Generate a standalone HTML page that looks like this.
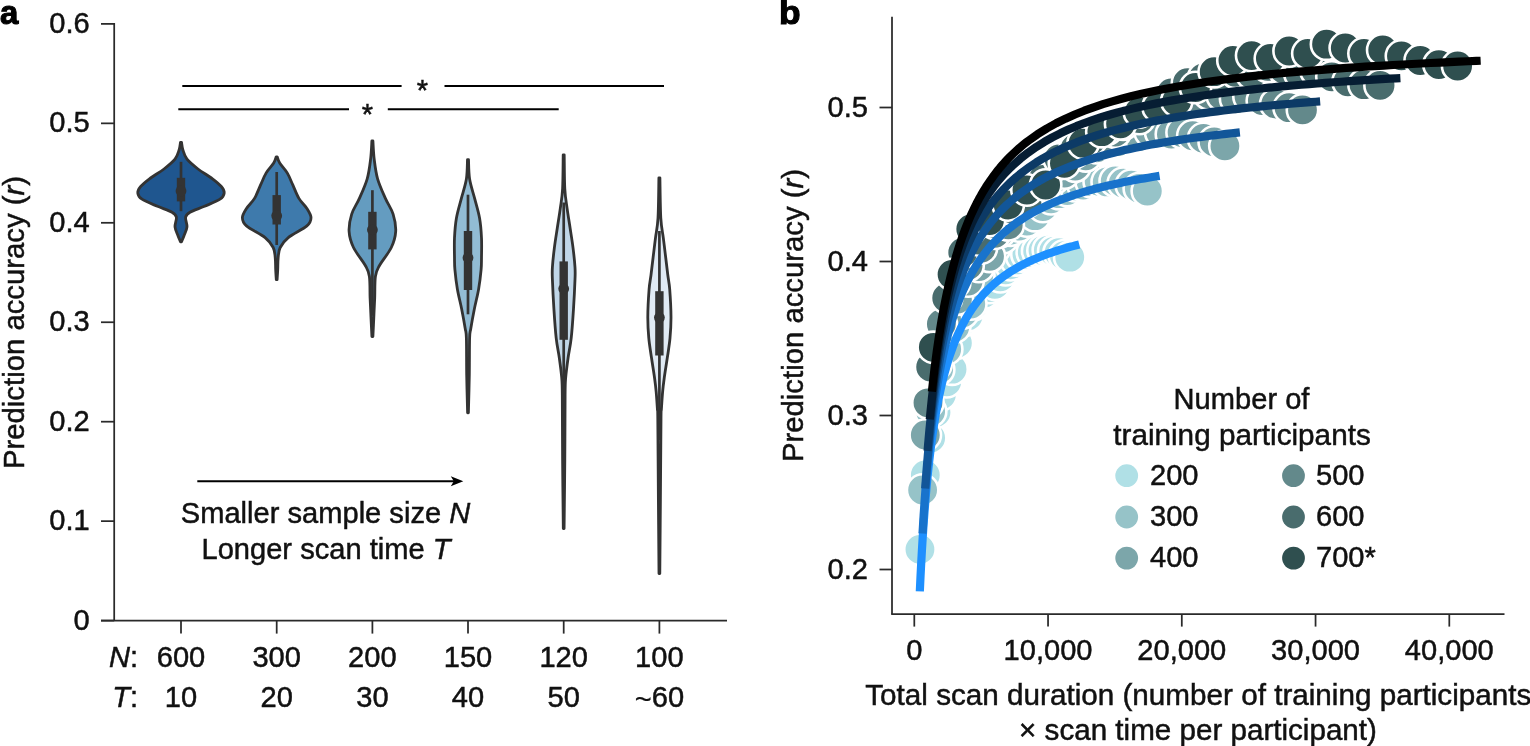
<!DOCTYPE html>
<html><head><meta charset="utf-8"><title>Figure</title>
<style>
html,body{margin:0;padding:0;background:#fff;}
svg{display:block;}
text{font-family:"Liberation Sans", sans-serif;font-size:30.0px;fill:#111;stroke:#111;stroke-width:0.5px;}
.b{font-weight:bold;font-size:34px;fill:#000;stroke:#000;stroke-width:1.1px;}
.i{font-style:italic;}
</style></head><body>
<svg width="1530" height="746" viewBox="0 0 1530 746">
<rect width="1530" height="746" fill="#fff"/>
<text class="b" transform="translate(0.00,24.30) scale(0.97,1)" text-anchor="start">a</text>
<path d="M114.2 23 V620.6" stroke="#2a2a2a" stroke-width="1.75" fill="none"/>
<path d="M101 620.6 H727" stroke="#2a2a2a" stroke-width="1.75" fill="none"/>
<line x1="101" y1="23.90" x2="114.2" y2="23.90" stroke="#2a2a2a" stroke-width="1.75"/>
<text transform="translate(89.80,32.90) scale(0.97,1)" text-anchor="end">0.6</text>
<line x1="101" y1="123.35" x2="114.2" y2="123.35" stroke="#2a2a2a" stroke-width="1.75"/>
<text transform="translate(89.80,132.35) scale(0.97,1)" text-anchor="end">0.5</text>
<line x1="101" y1="222.80" x2="114.2" y2="222.80" stroke="#2a2a2a" stroke-width="1.75"/>
<text transform="translate(89.80,231.80) scale(0.97,1)" text-anchor="end">0.4</text>
<line x1="101" y1="322.25" x2="114.2" y2="322.25" stroke="#2a2a2a" stroke-width="1.75"/>
<text transform="translate(89.80,331.25) scale(0.97,1)" text-anchor="end">0.3</text>
<line x1="101" y1="421.70" x2="114.2" y2="421.70" stroke="#2a2a2a" stroke-width="1.75"/>
<text transform="translate(89.80,430.70) scale(0.97,1)" text-anchor="end">0.2</text>
<line x1="101" y1="521.15" x2="114.2" y2="521.15" stroke="#2a2a2a" stroke-width="1.75"/>
<text transform="translate(89.80,530.15) scale(0.97,1)" text-anchor="end">0.1</text>
<line x1="101" y1="620.60" x2="114.2" y2="620.60" stroke="#2a2a2a" stroke-width="1.75"/>
<text transform="translate(89.80,629.60) scale(0.97,1)" text-anchor="end">0</text>
<line x1="181" y1="620.6" x2="181" y2="633.6" stroke="#2a2a2a" stroke-width="1.75"/>
<text transform="translate(181.00,666.60) scale(0.97,1)" text-anchor="middle">600</text>
<text transform="translate(181.00,706.80) scale(0.97,1)" text-anchor="middle">10</text>
<line x1="276.7" y1="620.6" x2="276.7" y2="633.6" stroke="#2a2a2a" stroke-width="1.75"/>
<text transform="translate(276.70,666.60) scale(0.97,1)" text-anchor="middle">300</text>
<text transform="translate(276.70,706.80) scale(0.97,1)" text-anchor="middle">20</text>
<line x1="372.4" y1="620.6" x2="372.4" y2="633.6" stroke="#2a2a2a" stroke-width="1.75"/>
<text transform="translate(372.40,666.60) scale(0.97,1)" text-anchor="middle">200</text>
<text transform="translate(372.40,706.80) scale(0.97,1)" text-anchor="middle">30</text>
<line x1="468" y1="620.6" x2="468" y2="633.6" stroke="#2a2a2a" stroke-width="1.75"/>
<text transform="translate(468.00,666.60) scale(0.97,1)" text-anchor="middle">150</text>
<text transform="translate(468.00,706.80) scale(0.97,1)" text-anchor="middle">40</text>
<line x1="563.7" y1="620.6" x2="563.7" y2="633.6" stroke="#2a2a2a" stroke-width="1.75"/>
<text transform="translate(563.70,666.60) scale(0.97,1)" text-anchor="middle">120</text>
<text transform="translate(563.70,706.80) scale(0.97,1)" text-anchor="middle">50</text>
<line x1="659.4" y1="620.6" x2="659.4" y2="633.6" stroke="#2a2a2a" stroke-width="1.75"/>
<text transform="translate(659.40,666.60) scale(0.97,1)" text-anchor="middle">100</text>
<text transform="translate(659.40,706.80) scale(0.97,1)" text-anchor="middle"><tspan dy="2.6" style="stroke-width:0.2px">~</tspan><tspan dy="-2.6">60</tspan></text>
<text transform="translate(138.20,666.60) scale(0.97,1)" text-anchor="end"><tspan class="i">N</tspan>:</text>
<text transform="translate(138.20,706.80) scale(0.97,1)" text-anchor="end"><tspan class="i">T</tspan>:</text>
<text transform="translate(23.50,322.50) rotate(-90) scale(0.977,1)" text-anchor="middle">Prediction accuracy (<tspan class="i">r</tspan>)</text>
<path d="M182.3 85.9 H401.6 M444.5 85.9 H664" stroke="#000" stroke-width="2"/>
<path d="M178.3 109.3 H349 M387.8 109.3 H558.7" stroke="#000" stroke-width="2"/>
<text transform="translate(422.50,99.60) scale(0.97,1)" text-anchor="middle">*</text>
<text transform="translate(367.50,123.70) scale(0.97,1)" text-anchor="middle">*</text>
<path d="M197.3 481.2 H456" stroke="#000" stroke-width="2"/>
<path d="M463.3 481.2 L450.8 476.2 L453.8 481.2 L450.8 486.2 Z" fill="#000"/>
<text transform="translate(325.50,523.30) scale(0.97,1)" text-anchor="middle">Smaller sample size <tspan class="i">N</tspan></text>
<text transform="translate(326.00,559.00) scale(0.97,1)" text-anchor="middle">Longer scan time <tspan class="i">T</tspan></text>
<path d="M181.50 142.30 C181.73 143.58 181.98 147.18 182.90 150.00 C183.82 152.82 184.48 156.03 187.00 159.20 C189.52 162.37 193.75 165.73 198.00 169.00 C202.25 172.27 208.58 175.85 212.50 178.80 C216.42 181.75 219.55 184.33 221.50 186.70 C223.45 189.07 224.45 190.92 224.20 193.00 C223.95 195.08 223.28 196.98 220.00 199.20 C216.72 201.42 209.50 204.13 204.50 206.30 C199.50 208.47 193.15 210.40 190.00 212.20 C186.85 214.00 186.10 214.65 185.60 217.10 C185.10 219.55 187.27 223.80 187.00 226.90 C186.73 230.00 184.92 233.22 184.00 235.70 C183.08 238.18 181.92 240.78 181.50 241.80 L180.50 241.80 C180.08 240.78 178.92 238.18 178.00 235.70 C177.08 233.22 175.27 230.00 175.00 226.90 C174.73 223.80 176.90 219.55 176.40 217.10 C175.90 214.65 175.15 214.00 172.00 212.20 C168.85 210.40 162.50 208.47 157.50 206.30 C152.50 204.13 145.28 201.42 142.00 199.20 C138.72 196.98 138.05 195.08 137.80 193.00 C137.55 190.92 138.55 189.07 140.50 186.70 C142.45 184.33 145.58 181.75 149.50 178.80 C153.42 175.85 159.75 172.27 164.00 169.00 C168.25 165.73 172.48 162.37 175.00 159.20 C177.52 156.03 178.18 152.82 179.10 150.00 C180.02 147.18 180.27 143.58 180.50 142.30 Z" fill="#1f568f" stroke="#333" stroke-width="2.8" stroke-linejoin="round"/>
<line x1="181" y1="161.8" x2="181" y2="211.2" stroke="#333" stroke-width="2.7"/>
<line x1="181" y1="177.8" x2="181" y2="201.4" stroke="#333" stroke-width="8.4"/>
<circle cx="181" cy="191" r="5.4" fill="#333"/>
<path d="M277.20 156.80 C277.62 157.85 278.03 160.42 279.70 163.10 C281.37 165.78 285.03 169.30 287.20 172.90 C289.37 176.50 290.75 180.45 292.70 184.70 C294.65 188.95 296.57 194.48 298.90 198.40 C301.23 202.32 304.68 205.00 306.70 208.20 C308.72 211.40 310.97 214.65 311.00 217.60 C311.03 220.55 310.68 222.57 306.90 225.90 C303.12 229.23 292.75 234.00 288.30 237.60 C283.85 241.20 281.88 244.22 280.20 247.50 C278.52 250.78 278.62 253.55 278.20 257.30 C277.78 261.05 277.88 266.28 277.70 270.00 C277.52 273.72 277.20 278.00 277.10 279.60 L276.30 279.60 C276.20 278.00 275.88 273.72 275.70 270.00 C275.52 266.28 275.62 261.05 275.20 257.30 C274.78 253.55 274.88 250.78 273.20 247.50 C271.52 244.22 269.55 241.20 265.10 237.60 C260.65 234.00 250.28 229.23 246.50 225.90 C242.72 222.57 242.37 220.55 242.40 217.60 C242.43 214.65 244.68 211.40 246.70 208.20 C248.72 205.00 252.17 202.32 254.50 198.40 C256.83 194.48 258.75 188.95 260.70 184.70 C262.65 180.45 264.03 176.50 266.20 172.90 C268.37 169.30 272.03 165.78 273.70 163.10 C275.37 160.42 275.78 157.85 276.20 156.80 Z" fill="#3e7aac" stroke="#333" stroke-width="2.8" stroke-linejoin="round"/>
<line x1="276.7" y1="172" x2="276.7" y2="245" stroke="#333" stroke-width="2.7"/>
<line x1="276.7" y1="195.1" x2="276.7" y2="224.5" stroke="#333" stroke-width="8.4"/>
<circle cx="276.7" cy="215.7" r="5.4" fill="#333"/>
<path d="M372.90 140.90 C373.12 143.95 373.42 152.88 374.20 159.20 C374.98 165.52 375.73 172.27 377.60 178.80 C379.47 185.33 382.82 192.52 385.40 198.40 C387.98 204.28 391.38 208.60 393.10 214.10 C394.82 219.60 396.00 225.83 395.70 231.40 C395.40 236.97 394.05 241.73 391.30 247.50 C388.55 253.27 381.85 261.17 379.20 266.00 C376.55 270.83 376.15 271.17 375.40 276.50 C374.65 281.83 374.97 291.15 374.70 298.00 C374.43 304.85 374.10 311.18 373.80 317.60 C373.50 324.02 373.05 333.35 372.90 336.50 L371.90 336.50 C371.75 333.35 371.30 324.02 371.00 317.60 C370.70 311.18 370.37 304.85 370.10 298.00 C369.83 291.15 370.15 281.83 369.40 276.50 C368.65 271.17 368.25 270.83 365.60 266.00 C362.95 261.17 356.25 253.27 353.50 247.50 C350.75 241.73 349.40 236.97 349.10 231.40 C348.80 225.83 349.98 219.60 351.70 214.10 C353.42 208.60 356.82 204.28 359.40 198.40 C361.98 192.52 365.33 185.33 367.20 178.80 C369.07 172.27 369.82 165.52 370.60 159.20 C371.38 152.88 371.68 143.95 371.90 140.90 Z" fill="#649cc0" stroke="#333" stroke-width="2.8" stroke-linejoin="round"/>
<line x1="372.4" y1="190.2" x2="372.4" y2="315.7" stroke="#333" stroke-width="2.7"/>
<line x1="372.4" y1="211.8" x2="372.4" y2="249.4" stroke="#333" stroke-width="8.4"/>
<circle cx="372.4" cy="229.8" r="5.4" fill="#333"/>
<path d="M468.50 159.70 C468.68 162.92 468.57 172.52 469.60 179.00 C470.63 185.48 473.03 192.07 474.70 198.60 C476.37 205.13 478.47 211.67 479.60 218.20 C480.73 224.73 481.18 231.25 481.50 237.80 C481.82 244.35 481.57 252.20 481.50 257.50 C481.43 262.80 481.58 264.32 481.10 269.60 C480.62 274.88 479.72 282.67 478.60 289.20 C477.48 295.73 475.70 302.27 474.40 308.80 C473.10 315.33 471.60 323.50 470.80 328.40 C470.00 333.30 469.85 330.43 469.60 338.20 C469.35 345.97 469.50 362.57 469.30 375.00 C469.10 387.43 468.55 406.50 468.40 412.80 L467.60 412.80 C467.45 406.50 466.90 387.43 466.70 375.00 C466.50 362.57 466.65 345.97 466.40 338.20 C466.15 330.43 466.00 333.30 465.20 328.40 C464.40 323.50 462.90 315.33 461.60 308.80 C460.30 302.27 458.52 295.73 457.40 289.20 C456.28 282.67 455.38 274.88 454.90 269.60 C454.42 264.32 454.57 262.80 454.50 257.50 C454.43 252.20 454.18 244.35 454.50 237.80 C454.82 231.25 455.27 224.73 456.40 218.20 C457.53 211.67 459.63 205.13 461.30 198.60 C462.97 192.07 465.37 185.48 466.40 179.00 C467.43 172.52 467.32 162.92 467.50 159.70 Z" fill="#92bcd4" stroke="#333" stroke-width="2.8" stroke-linejoin="round"/>
<line x1="468" y1="194.7" x2="468" y2="314.3" stroke="#333" stroke-width="2.7"/>
<line x1="468" y1="231" x2="468" y2="290" stroke="#333" stroke-width="8.4"/>
<circle cx="468" cy="257.8" r="5.4" fill="#333"/>
<path d="M564.20 154.80 C564.30 160.47 564.32 179.87 564.80 188.80 C565.28 197.73 566.22 201.87 567.10 208.40 C567.98 214.93 569.12 221.47 570.10 228.00 C571.08 234.53 572.18 241.05 573.00 247.60 C573.82 254.15 574.67 262.00 575.00 267.30 C575.33 272.60 575.25 272.48 575.00 279.40 C574.75 286.32 574.13 299.00 573.50 308.80 C572.87 318.60 572.10 330.03 571.20 338.20 C570.30 346.37 569.02 351.25 568.10 357.80 C567.18 364.35 566.20 371.30 565.70 377.50 C565.20 383.70 565.25 381.25 565.10 395.00 C564.95 408.75 564.97 437.75 564.80 460.00 C564.63 482.25 564.22 517.08 564.10 528.50 L563.30 528.50 C563.18 517.08 562.77 482.25 562.60 460.00 C562.43 437.75 562.45 408.75 562.30 395.00 C562.15 381.25 562.20 383.70 561.70 377.50 C561.20 371.30 560.22 364.35 559.30 357.80 C558.38 351.25 557.10 346.37 556.20 338.20 C555.30 330.03 554.53 318.60 553.90 308.80 C553.27 299.00 552.65 286.32 552.40 279.40 C552.15 272.48 552.07 272.60 552.40 267.30 C552.73 262.00 553.58 254.15 554.40 247.60 C555.22 241.05 556.32 234.53 557.30 228.00 C558.28 221.47 559.42 214.93 560.30 208.40 C561.18 201.87 562.12 197.73 562.60 188.80 C563.08 179.87 563.10 160.47 563.20 154.80 Z" fill="#c0d6e8" stroke="#333" stroke-width="2.8" stroke-linejoin="round"/>
<line x1="563.7" y1="202.5" x2="563.7" y2="420" stroke="#333" stroke-width="2.7"/>
<line x1="563.7" y1="261.4" x2="563.7" y2="339.8" stroke="#333" stroke-width="8.4"/>
<circle cx="563.7" cy="288.8" r="5.4" fill="#333"/>
<path d="M659.90 177.90 C660.05 184.62 660.23 208.22 660.80 218.20 C661.37 228.18 662.48 231.25 663.30 237.80 C664.12 244.35 664.95 251.30 665.70 257.50 C666.45 263.70 667.13 269.72 667.80 275.00 C668.47 280.28 669.17 282.25 669.70 289.20 C670.23 296.15 670.95 308.53 671.00 316.70 C671.05 324.87 670.62 331.35 670.00 338.20 C669.38 345.05 668.25 351.25 667.30 357.80 C666.35 364.35 665.08 371.80 664.30 377.50 C663.52 383.20 663.08 386.72 662.60 392.00 C662.12 397.28 661.67 404.70 661.40 409.20 C661.13 413.70 661.17 403.87 661.00 419.00 C660.83 434.13 660.60 474.23 660.40 500.00 C660.20 525.77 659.90 561.33 659.80 573.60 L659.00 573.60 C658.90 561.33 658.60 525.77 658.40 500.00 C658.20 474.23 657.97 434.13 657.80 419.00 C657.63 403.87 657.67 413.70 657.40 409.20 C657.13 404.70 656.68 397.28 656.20 392.00 C655.72 386.72 655.28 383.20 654.50 377.50 C653.72 371.80 652.45 364.35 651.50 357.80 C650.55 351.25 649.42 345.05 648.80 338.20 C648.18 331.35 647.75 324.87 647.80 316.70 C647.85 308.53 648.57 296.15 649.10 289.20 C649.63 282.25 650.33 280.28 651.00 275.00 C651.67 269.72 652.35 263.70 653.10 257.50 C653.85 251.30 654.68 244.35 655.50 237.80 C656.32 231.25 657.43 228.18 658.00 218.20 C658.57 208.22 658.75 184.62 658.90 177.90 Z" fill="#e0eaf4" stroke="#333" stroke-width="2.8" stroke-linejoin="round"/>
<line x1="659.4" y1="231" x2="659.4" y2="440" stroke="#333" stroke-width="2.7"/>
<line x1="659.4" y1="291.2" x2="659.4" y2="355.5" stroke="#333" stroke-width="8.4"/>
<circle cx="659.4" cy="317.6" r="5.4" fill="#333"/>
<text class="b" transform="translate(779.00,24.30) scale(1.04,1)" text-anchor="start">b</text>
<g fill="#b0e0e6" stroke="#fff" stroke-width="2.6">
<circle cx="919.95" cy="549.40" r="15.7"/><circle cx="925.30" cy="475.00" r="15.7"/><circle cx="930.65" cy="438.00" r="15.7"/><circle cx="936.00" cy="412.28" r="15.7"/><circle cx="941.35" cy="394.76" r="15.7"/><circle cx="946.70" cy="381.82" r="15.7"/><circle cx="952.05" cy="369.22" r="15.7"/><circle cx="957.40" cy="343.00" r="15.7"/><circle cx="962.75" cy="320.87" r="15.7"/><circle cx="968.10" cy="315.86" r="15.7"/><circle cx="973.45" cy="304.66" r="15.7"/><circle cx="978.80" cy="297.61" r="15.7"/><circle cx="984.15" cy="292.98" r="15.7"/><circle cx="989.50" cy="287.53" r="15.7"/><circle cx="994.85" cy="284.23" r="15.7"/><circle cx="1000.20" cy="276.80" r="15.7"/><circle cx="1005.55" cy="269.81" r="15.7"/><circle cx="1010.90" cy="264.73" r="15.7"/><circle cx="1016.25" cy="259.97" r="15.7"/><circle cx="1021.60" cy="255.94" r="15.7"/><circle cx="1026.95" cy="254.32" r="15.7"/><circle cx="1032.30" cy="252.45" r="15.7"/><circle cx="1037.65" cy="251.07" r="15.7"/><circle cx="1043.00" cy="250.48" r="15.7"/><circle cx="1048.35" cy="250.05" r="15.7"/><circle cx="1053.70" cy="251.28" r="15.7"/><circle cx="1059.05" cy="252.64" r="15.7"/><circle cx="1064.40" cy="255.65" r="15.7"/><circle cx="1069.75" cy="257.20" r="15.7"/>
</g>
<g fill="#96c3c8" stroke="#fff" stroke-width="2.6">
<circle cx="922.62" cy="490.00" r="15.7"/><circle cx="930.65" cy="411.58" r="15.7"/><circle cx="938.68" cy="369.42" r="15.7"/><circle cx="946.70" cy="349.30" r="15.7"/><circle cx="954.73" cy="327.06" r="15.7"/><circle cx="962.75" cy="312.91" r="15.7"/><circle cx="970.77" cy="304.00" r="15.7"/><circle cx="978.80" cy="275.62" r="15.7"/><circle cx="986.83" cy="253.65" r="15.7"/><circle cx="994.85" cy="247.77" r="15.7"/><circle cx="1002.88" cy="237.71" r="15.7"/><circle cx="1010.90" cy="230.23" r="15.7"/><circle cx="1018.93" cy="226.07" r="15.7"/><circle cx="1026.95" cy="221.07" r="15.7"/><circle cx="1034.97" cy="215.71" r="15.7"/><circle cx="1043.00" cy="206.60" r="15.7"/><circle cx="1051.03" cy="198.76" r="15.7"/><circle cx="1059.05" cy="193.72" r="15.7"/><circle cx="1067.08" cy="190.50" r="15.7"/><circle cx="1075.10" cy="185.79" r="15.7"/><circle cx="1083.12" cy="184.99" r="15.7"/><circle cx="1091.15" cy="181.67" r="15.7"/><circle cx="1099.17" cy="181.35" r="15.7"/><circle cx="1107.20" cy="181.97" r="15.7"/><circle cx="1115.22" cy="180.94" r="15.7"/><circle cx="1123.25" cy="183.15" r="15.7"/><circle cx="1131.28" cy="185.18" r="15.7"/><circle cx="1139.30" cy="188.42" r="15.7"/><circle cx="1147.33" cy="191.00" r="15.7"/>
</g>
<g fill="#7ca6aa" stroke="#fff" stroke-width="2.6">
<circle cx="925.30" cy="435.00" r="15.7"/><circle cx="936.00" cy="364.59" r="15.7"/><circle cx="946.70" cy="320.09" r="15.7"/><circle cx="957.40" cy="299.16" r="15.7"/><circle cx="968.10" cy="281.10" r="15.7"/><circle cx="978.80" cy="266.51" r="15.7"/><circle cx="989.50" cy="256.42" r="15.7"/><circle cx="1000.20" cy="231.68" r="15.7"/><circle cx="1010.90" cy="210.15" r="15.7"/><circle cx="1021.60" cy="202.42" r="15.7"/><circle cx="1032.30" cy="192.47" r="15.7"/><circle cx="1043.00" cy="183.49" r="15.7"/><circle cx="1053.70" cy="178.70" r="15.7"/><circle cx="1064.40" cy="173.04" r="15.7"/><circle cx="1075.10" cy="166.18" r="15.7"/><circle cx="1085.80" cy="155.94" r="15.7"/><circle cx="1096.50" cy="147.80" r="15.7"/><circle cx="1107.20" cy="143.33" r="15.7"/><circle cx="1117.90" cy="141.67" r="15.7"/><circle cx="1128.60" cy="136.30" r="15.7"/><circle cx="1139.30" cy="136.34" r="15.7"/><circle cx="1150.00" cy="131.58" r="15.7"/><circle cx="1160.70" cy="132.32" r="15.7"/><circle cx="1171.40" cy="134.17" r="15.7"/><circle cx="1182.10" cy="132.55" r="15.7"/><circle cx="1192.80" cy="135.73" r="15.7"/><circle cx="1203.50" cy="138.43" r="15.7"/><circle cx="1214.20" cy="141.92" r="15.7"/><circle cx="1224.90" cy="145.90" r="15.7"/>
</g>
<g fill="#63898b" stroke="#fff" stroke-width="2.6">
<circle cx="927.98" cy="402.80" r="15.7"/><circle cx="941.35" cy="324.00" r="15.7"/><circle cx="954.73" cy="282.51" r="15.7"/><circle cx="968.10" cy="265.43" r="15.7"/><circle cx="981.48" cy="248.09" r="15.7"/><circle cx="994.85" cy="233.31" r="15.7"/><circle cx="1008.23" cy="224.92" r="15.7"/><circle cx="1021.60" cy="201.21" r="15.7"/><circle cx="1034.97" cy="180.19" r="15.7"/><circle cx="1048.35" cy="171.23" r="15.7"/><circle cx="1061.72" cy="162.00" r="15.7"/><circle cx="1075.10" cy="152.12" r="15.7"/><circle cx="1088.47" cy="147.30" r="15.7"/><circle cx="1101.85" cy="141.56" r="15.7"/><circle cx="1115.22" cy="132.19" r="15.7"/><circle cx="1128.60" cy="119.80" r="15.7"/><circle cx="1141.97" cy="110.33" r="15.7"/><circle cx="1155.35" cy="105.42" r="15.7"/><circle cx="1168.72" cy="105.31" r="15.7"/><circle cx="1182.10" cy="99.26" r="15.7"/><circle cx="1195.47" cy="100.10" r="15.7"/><circle cx="1208.85" cy="93.89" r="15.7"/><circle cx="1222.22" cy="95.67" r="15.7"/><circle cx="1235.60" cy="98.73" r="15.7"/><circle cx="1248.97" cy="96.50" r="15.7"/><circle cx="1262.35" cy="100.65" r="15.7"/><circle cx="1275.72" cy="104.00" r="15.7"/><circle cx="1289.10" cy="107.70" r="15.7"/><circle cx="1302.47" cy="109.90" r="15.7"/>
</g>
<g fill="#496c6d" stroke="#fff" stroke-width="2.6">
<circle cx="930.65" cy="367.00" r="15.7"/><circle cx="946.70" cy="298.00" r="15.7"/><circle cx="962.75" cy="252.50" r="15.7"/><circle cx="978.80" cy="240.02" r="15.7"/><circle cx="994.85" cy="223.58" r="15.7"/><circle cx="1010.90" cy="208.69" r="15.7"/><circle cx="1026.95" cy="202.01" r="15.7"/><circle cx="1043.00" cy="179.33" r="15.7"/><circle cx="1059.05" cy="158.79" r="15.7"/><circle cx="1075.10" cy="148.59" r="15.7"/><circle cx="1091.15" cy="140.04" r="15.7"/><circle cx="1107.20" cy="129.22" r="15.7"/><circle cx="1123.25" cy="124.33" r="15.7"/><circle cx="1139.30" cy="118.49" r="15.7"/><circle cx="1155.35" cy="107.07" r="15.7"/><circle cx="1171.40" cy="92.99" r="15.7"/><circle cx="1187.45" cy="82.67" r="15.7"/><circle cx="1203.50" cy="77.78" r="15.7"/><circle cx="1219.55" cy="79.19" r="15.7"/><circle cx="1235.60" cy="72.43" r="15.7"/><circle cx="1251.65" cy="74.06" r="15.7"/><circle cx="1267.70" cy="66.36" r="15.7"/><circle cx="1283.75" cy="69.17" r="15.7"/><circle cx="1299.80" cy="73.40" r="15.7"/><circle cx="1315.85" cy="70.55" r="15.7"/><circle cx="1331.90" cy="76.80" r="15.7"/><circle cx="1347.95" cy="81.80" r="15.7"/><circle cx="1364.00" cy="84.70" r="15.7"/><circle cx="1380.05" cy="85.40" r="15.7"/>
</g>
<g fill="#2f4f4f" stroke="#fff" stroke-width="2.6">
<circle cx="933.33" cy="347.30" r="15.7"/><circle cx="952.05" cy="274.50" r="15.7"/><circle cx="970.77" cy="229.00" r="15.7"/><circle cx="989.50" cy="220.50" r="15.7"/><circle cx="1008.23" cy="205.00" r="15.7"/><circle cx="1026.95" cy="190.00" r="15.7"/><circle cx="1045.67" cy="185.00" r="15.7"/><circle cx="1064.40" cy="163.30" r="15.7"/><circle cx="1083.12" cy="143.20" r="15.7"/><circle cx="1101.85" cy="131.70" r="15.7"/><circle cx="1120.58" cy="123.80" r="15.7"/><circle cx="1139.30" cy="112.00" r="15.7"/><circle cx="1158.03" cy="107.00" r="15.7"/><circle cx="1176.75" cy="101.00" r="15.7"/><circle cx="1195.47" cy="87.50" r="15.7"/><circle cx="1214.20" cy="71.70" r="15.7"/><circle cx="1232.92" cy="60.50" r="15.7"/><circle cx="1251.65" cy="55.60" r="15.7"/><circle cx="1270.38" cy="58.50" r="15.7"/><circle cx="1289.10" cy="51.00" r="15.7"/><circle cx="1307.83" cy="53.40" r="15.7"/><circle cx="1326.55" cy="44.20" r="15.7"/><circle cx="1345.28" cy="48.00" r="15.7"/><circle cx="1364.00" cy="53.40" r="15.7"/><circle cx="1382.72" cy="49.90" r="15.7"/><circle cx="1401.45" cy="55.90" r="15.7"/><circle cx="1420.17" cy="60.50" r="15.7"/><circle cx="1438.90" cy="64.60" r="15.7"/><circle cx="1457.62" cy="66.00" r="15.7"/>
</g>
<path d="M919.82 591.40 L919.90 589.60 L920.57 575.43 L921.24 562.47 L921.91 550.55 L922.58 539.52 L923.24 529.26 L923.91 519.70 L924.58 510.74 L925.25 502.33 L925.92 494.41 L926.59 486.93 L927.26 479.86 L927.93 473.16 L928.59 466.80 L929.26 460.75 L929.93 454.98 L930.60 449.49 L931.27 444.23 L931.94 439.21 L932.61 434.40 L933.28 429.79 L933.94 425.37 L934.61 421.12 L935.28 417.04 L935.95 413.11 L936.62 409.32 L937.29 405.68 L937.96 402.16 L938.63 398.76 L939.29 395.48 L939.96 392.31 L940.63 389.25 L941.30 386.28 L941.97 383.41 L942.64 380.63 L943.31 377.93 L943.98 375.31 L944.64 372.78 L945.31 370.31 L945.98 367.92 L946.65 365.59 L947.32 363.33 L949.99 354.88 L952.67 347.28 L955.34 340.39 L958.02 334.13 L960.69 328.41 L963.37 323.16 L966.04 318.33 L968.72 313.86 L971.39 309.72 L974.07 305.88 L976.74 302.29 L979.42 298.94 L982.09 295.81 L984.77 292.86 L987.44 290.09 L990.12 287.49 L992.79 285.03 L995.47 282.70 L998.14 280.50 L1000.82 278.41 L1003.49 276.43 L1006.17 274.55 L1008.84 272.75 L1011.52 271.04 L1014.19 269.41 L1016.87 267.85 L1019.54 266.37 L1022.22 264.94 L1024.89 263.57 L1027.57 262.26 L1030.24 261.01 L1032.92 259.80 L1035.59 258.64 L1038.27 257.52 L1040.94 256.45 L1043.62 255.41 L1046.29 254.41 L1048.97 253.45 L1051.64 252.52 L1054.32 251.62 L1056.99 250.75 L1059.67 249.91 L1062.34 249.10 L1065.02 248.31 L1067.69 247.55 L1070.37 246.81 L1073.04 246.10 L1075.10 245.56 L1079.26 244.48" fill="none" stroke="#1e90ff" stroke-width="8.2" stroke-linecap="butt" stroke-linejoin="round"/>
<path d="M922.50 533.49 L922.62 531.69 L923.62 515.61 L924.62 501.00 L925.63 487.62 L926.63 475.31 L927.63 463.93 L928.64 453.37 L929.64 443.53 L930.64 434.33 L931.64 425.70 L932.65 417.60 L933.65 409.97 L934.65 402.76 L935.66 395.95 L936.66 389.49 L937.66 383.36 L938.67 377.54 L939.67 371.99 L940.67 366.70 L941.68 361.66 L942.68 356.84 L943.68 352.22 L944.69 347.80 L945.69 343.57 L946.69 339.50 L947.69 335.60 L948.70 331.84 L949.70 328.23 L950.70 324.75 L951.71 321.40 L952.71 318.17 L953.71 315.05 L954.72 312.03 L955.72 309.12 L956.72 306.31 L957.73 303.59 L958.73 300.95 L959.73 298.40 L960.74 295.92 L961.74 293.52 L962.74 291.20 L963.74 288.94 L967.76 280.53 L971.77 273.01 L975.78 266.24 L979.79 260.11 L983.81 254.54 L987.82 249.44 L991.83 244.77 L995.84 240.47 L999.86 236.50 L1003.87 232.81 L1007.88 229.39 L1011.89 226.21 L1015.91 223.23 L1019.92 220.44 L1023.93 217.83 L1027.94 215.37 L1031.96 213.06 L1035.97 210.87 L1039.98 208.81 L1043.99 206.86 L1048.01 205.01 L1052.02 203.25 L1056.03 201.58 L1060.04 199.99 L1064.06 198.47 L1068.07 197.03 L1072.08 195.65 L1076.09 194.33 L1080.11 193.07 L1084.12 191.86 L1088.13 190.70 L1092.14 189.59 L1096.16 188.52 L1100.17 187.49 L1104.18 186.51 L1108.19 185.56 L1112.21 184.64 L1116.22 183.76 L1120.23 182.91 L1124.24 182.09 L1128.26 181.29 L1132.27 180.52 L1136.28 179.78 L1140.29 179.07 L1144.31 178.37 L1148.32 177.70 L1152.33 177.05 L1155.35 176.57 L1159.60 175.90" fill="none" stroke="#1873cc" stroke-width="8.2" stroke-linecap="butt" stroke-linejoin="round"/>
<path d="M925.16 488.52 L925.30 486.73 L926.63 469.38 L927.97 453.70 L929.31 439.44 L930.65 426.38 L931.98 414.36 L933.32 403.26 L934.66 392.97 L936.00 383.38 L937.33 374.44 L938.67 366.06 L940.01 358.20 L941.35 350.81 L942.68 343.84 L944.02 337.26 L945.36 331.03 L946.70 325.13 L948.03 319.53 L949.37 314.20 L950.71 309.13 L952.05 304.30 L953.38 299.69 L954.72 295.28 L956.06 291.07 L957.40 287.03 L958.73 283.16 L960.07 279.45 L961.41 275.89 L962.75 272.46 L964.08 269.17 L965.42 265.99 L966.76 262.94 L968.10 259.99 L969.43 257.15 L970.77 254.41 L972.11 251.76 L973.45 249.20 L974.78 246.72 L976.12 244.33 L977.46 242.01 L978.80 239.76 L980.13 237.58 L985.48 229.49 L990.83 222.29 L996.18 215.84 L1001.53 210.02 L1006.88 204.74 L1012.23 199.94 L1017.58 195.54 L1022.93 191.51 L1028.28 187.79 L1033.63 184.35 L1038.98 181.17 L1044.33 178.20 L1049.68 175.44 L1055.03 172.86 L1060.38 170.45 L1065.73 168.18 L1071.08 166.04 L1076.43 164.04 L1081.78 162.14 L1087.13 160.35 L1092.48 158.65 L1097.83 157.04 L1103.18 155.51 L1108.53 154.06 L1113.88 152.68 L1119.23 151.36 L1124.58 150.10 L1129.93 148.90 L1135.28 147.75 L1140.63 146.66 L1145.98 145.60 L1151.33 144.59 L1156.68 143.63 L1162.03 142.70 L1167.38 141.80 L1172.73 140.94 L1178.08 140.11 L1183.43 139.31 L1188.78 138.55 L1194.13 137.80 L1199.48 137.09 L1204.83 136.40 L1210.18 135.73 L1215.53 135.08 L1220.88 134.45 L1226.23 133.85 L1231.58 133.26 L1235.60 132.83 L1239.88 132.38" fill="none" stroke="#125699" stroke-width="8.2" stroke-linecap="butt" stroke-linejoin="round"/>
<path d="M927.55 450.79 L927.71 449.00 L929.38 430.47 L931.05 413.86 L932.72 398.84 L934.40 385.18 L936.07 372.68 L937.74 361.20 L939.41 350.61 L941.08 340.80 L942.75 331.69 L944.43 323.19 L946.10 315.25 L947.77 307.81 L949.44 300.82 L951.11 294.25 L952.79 288.05 L954.46 282.19 L956.13 276.65 L957.80 271.39 L959.47 266.40 L961.15 261.66 L962.82 257.15 L964.49 252.85 L966.16 248.74 L967.83 244.82 L969.50 241.07 L971.18 237.48 L972.85 234.04 L974.52 230.74 L976.19 227.57 L977.86 224.52 L979.54 221.59 L981.21 218.78 L982.88 216.06 L984.55 213.45 L986.22 210.92 L987.90 208.49 L989.57 206.14 L991.24 203.87 L992.91 201.67 L994.58 199.55 L996.25 197.49 L1002.94 189.88 L1009.63 183.13 L1016.32 177.11 L1023.00 171.70 L1029.69 166.81 L1036.38 162.37 L1043.07 158.32 L1049.75 154.61 L1056.44 151.20 L1063.13 148.06 L1069.82 145.15 L1076.50 142.45 L1083.19 139.94 L1089.88 137.60 L1096.57 135.41 L1103.25 133.36 L1109.94 131.43 L1116.63 129.62 L1123.32 127.91 L1130.00 126.29 L1136.69 124.76 L1143.38 123.32 L1150.07 121.95 L1156.75 120.64 L1163.44 119.41 L1170.13 118.23 L1176.82 117.10 L1183.50 116.03 L1190.19 115.00 L1196.88 114.02 L1203.57 113.08 L1210.25 112.18 L1216.94 111.32 L1223.63 110.49 L1230.32 109.70 L1237.00 108.93 L1243.69 108.20 L1250.38 107.49 L1257.07 106.81 L1263.75 106.15 L1270.44 105.51 L1277.13 104.90 L1283.82 104.31 L1290.50 103.73 L1297.19 103.18 L1303.88 102.64 L1310.57 102.12 L1315.85 101.73 L1320.14 101.40" fill="none" stroke="#0c3a66" stroke-width="8.2" stroke-linecap="butt" stroke-linejoin="round"/>
<path d="M929.74 419.37 L929.93 417.58 L931.93 398.03 L933.94 380.63 L935.95 365.02 L937.95 350.90 L939.96 338.07 L941.96 326.35 L943.97 315.58 L945.98 305.66 L947.98 296.48 L949.99 287.95 L952.00 280.02 L954.00 272.62 L956.01 265.69 L958.01 259.18 L960.02 253.07 L962.03 247.32 L964.03 241.89 L966.04 236.75 L968.05 231.89 L970.05 227.28 L972.06 222.90 L974.06 218.73 L976.07 214.77 L978.08 210.99 L980.08 207.38 L982.09 203.93 L984.10 200.63 L986.10 197.48 L988.11 194.45 L990.11 191.54 L992.12 188.76 L994.13 186.08 L996.13 183.50 L998.14 181.02 L1000.15 178.63 L1002.15 176.33 L1004.16 174.11 L1006.16 171.97 L1008.17 169.90 L1010.18 167.90 L1012.18 165.97 L1020.21 158.83 L1028.23 152.53 L1036.26 146.93 L1044.28 141.91 L1052.31 137.38 L1060.33 133.29 L1068.36 129.56 L1076.38 126.15 L1084.41 123.03 L1092.43 120.15 L1100.46 117.50 L1108.48 115.04 L1116.51 112.75 L1124.53 110.62 L1132.56 108.63 L1140.58 106.76 L1148.61 105.02 L1156.63 103.38 L1164.66 101.83 L1172.68 100.37 L1180.71 98.99 L1188.73 97.69 L1196.76 96.45 L1204.78 95.28 L1212.81 94.16 L1220.83 93.10 L1228.86 92.09 L1236.88 91.13 L1244.91 90.21 L1252.93 89.33 L1260.96 88.49 L1268.98 87.68 L1277.01 86.91 L1285.03 86.17 L1293.06 85.46 L1301.08 84.77 L1309.11 84.11 L1317.13 83.48 L1325.16 82.87 L1333.18 82.28 L1341.21 81.72 L1349.23 81.17 L1357.26 80.64 L1365.28 80.13 L1373.31 79.63 L1381.33 79.16 L1389.36 78.70 L1396.10 78.32 L1400.39 78.08" fill="none" stroke="#061d33" stroke-width="8.2" stroke-linecap="butt" stroke-linejoin="round"/>
<path d="M931.88 391.65 L932.08 389.86 L934.42 369.56 L936.76 351.62 L939.10 335.63 L941.44 321.27 L943.78 308.28 L946.13 296.47 L948.47 285.68 L950.81 275.78 L953.15 266.66 L955.49 258.23 L957.83 250.40 L960.17 243.12 L962.51 236.33 L964.85 229.98 L967.19 224.03 L969.53 218.44 L971.87 213.17 L974.21 208.21 L976.55 203.52 L978.89 199.08 L981.23 194.88 L983.58 190.89 L985.92 187.09 L988.26 183.48 L990.60 180.04 L992.94 176.76 L995.28 173.63 L997.62 170.63 L999.96 167.76 L1002.30 165.02 L1004.64 162.38 L1006.98 159.86 L1009.32 157.43 L1011.66 155.10 L1014.00 152.85 L1016.34 150.69 L1018.68 148.61 L1021.03 146.60 L1023.37 144.66 L1025.71 142.79 L1028.05 140.99 L1037.41 134.34 L1046.77 128.49 L1056.13 123.29 L1065.50 118.66 L1074.86 114.49 L1084.22 110.72 L1093.58 107.30 L1102.95 104.18 L1112.31 101.33 L1121.67 98.70 L1131.03 96.28 L1140.40 94.03 L1149.76 91.95 L1159.12 90.02 L1168.48 88.21 L1177.85 86.52 L1187.21 84.94 L1196.57 83.45 L1205.93 82.06 L1215.30 80.74 L1224.66 79.49 L1234.02 78.32 L1243.38 77.20 L1252.75 76.15 L1262.11 75.14 L1271.47 74.19 L1280.83 73.28 L1290.20 72.41 L1299.56 71.58 L1308.92 70.79 L1318.28 70.04 L1327.65 69.31 L1337.01 68.62 L1346.37 67.96 L1355.73 67.32 L1365.10 66.70 L1374.46 66.12 L1383.82 65.55 L1393.18 65.00 L1402.55 64.48 L1411.91 63.97 L1421.27 63.48 L1430.63 63.01 L1440.00 62.55 L1449.36 62.11 L1458.72 61.68 L1468.08 61.27 L1476.35 60.92 L1480.65 60.73" fill="none" stroke="#000000" stroke-width="8.2" stroke-linecap="butt" stroke-linejoin="round"/>
<path d="M892 16.7 V614.2" stroke="#2a2a2a" stroke-width="1.75" fill="none"/>
<path d="M891.2 614.0 H1504.5" stroke="#2a2a2a" stroke-width="1.75" fill="none"/>
<line x1="879.5" y1="107.50" x2="892.2" y2="107.50" stroke="#2a2a2a" stroke-width="1.75"/>
<text transform="translate(868.00,116.90) scale(0.97,1)" text-anchor="end">0.5</text>
<line x1="879.5" y1="261.50" x2="892.2" y2="261.50" stroke="#2a2a2a" stroke-width="1.75"/>
<text transform="translate(868.00,270.90) scale(0.97,1)" text-anchor="end">0.4</text>
<line x1="879.5" y1="415.50" x2="892.2" y2="415.50" stroke="#2a2a2a" stroke-width="1.75"/>
<text transform="translate(868.00,424.90) scale(0.97,1)" text-anchor="end">0.3</text>
<line x1="879.5" y1="569.50" x2="892.2" y2="569.50" stroke="#2a2a2a" stroke-width="1.75"/>
<text transform="translate(868.00,578.90) scale(0.97,1)" text-anchor="end">0.2</text>
<line x1="914.30" y1="614.2" x2="914.30" y2="626.6" stroke="#2a2a2a" stroke-width="1.75"/>
<text transform="translate(914.30,660.00) scale(0.97,1)" text-anchor="middle">0</text>
<line x1="1048.05" y1="614.2" x2="1048.05" y2="626.6" stroke="#2a2a2a" stroke-width="1.75"/>
<text transform="translate(1048.05,660.00) scale(0.97,1)" text-anchor="middle">10,000</text>
<line x1="1181.80" y1="614.2" x2="1181.80" y2="626.6" stroke="#2a2a2a" stroke-width="1.75"/>
<text transform="translate(1181.80,660.00) scale(0.97,1)" text-anchor="middle">20,000</text>
<line x1="1315.55" y1="614.2" x2="1315.55" y2="626.6" stroke="#2a2a2a" stroke-width="1.75"/>
<text transform="translate(1315.55,660.00) scale(0.97,1)" text-anchor="middle">30,000</text>
<line x1="1449.30" y1="614.2" x2="1449.30" y2="626.6" stroke="#2a2a2a" stroke-width="1.75"/>
<text transform="translate(1449.30,660.00) scale(0.97,1)" text-anchor="middle">40,000</text>
<text transform="translate(802.50,315.50) rotate(-90) scale(0.977,1)" text-anchor="middle">Prediction accuracy (<tspan class="i">r</tspan>)</text>
<text transform="translate(1198.30,704.50) scale(0.989,1)" text-anchor="middle">Total scan duration (number of training participants</text>
<text transform="translate(1198.00,739.50) scale(0.987,1)" text-anchor="middle">× scan time per participant)</text>
<text transform="translate(1241.50,409.30) scale(0.97,1)" text-anchor="middle">Number of</text>
<text transform="translate(1242.00,444.50) scale(0.99,1)" text-anchor="middle">training participants</text>
<circle cx="1126.7" cy="475.7" r="11.4" fill="#b0e0e6"/>
<text transform="translate(1150.00,484.70) scale(0.97,1)" text-anchor="start">200</text>
<circle cx="1126.7" cy="517.0" r="11.4" fill="#96c3c8"/>
<text transform="translate(1150.00,526.00) scale(0.97,1)" text-anchor="start">300</text>
<circle cx="1126.7" cy="558.1" r="11.4" fill="#7ca6aa"/>
<text transform="translate(1150.00,567.10) scale(0.97,1)" text-anchor="start">400</text>
<circle cx="1293.5" cy="475.7" r="11.4" fill="#63898b"/>
<text transform="translate(1316.00,484.70) scale(0.97,1)" text-anchor="start">500</text>
<circle cx="1293.5" cy="517.0" r="11.4" fill="#496c6d"/>
<text transform="translate(1316.00,526.00) scale(0.97,1)" text-anchor="start">600</text>
<circle cx="1293.5" cy="558.1" r="11.4" fill="#2f4f4f"/>
<text transform="translate(1316.00,567.10) scale(0.97,1)" text-anchor="start">700*</text>
</svg></body></html>
